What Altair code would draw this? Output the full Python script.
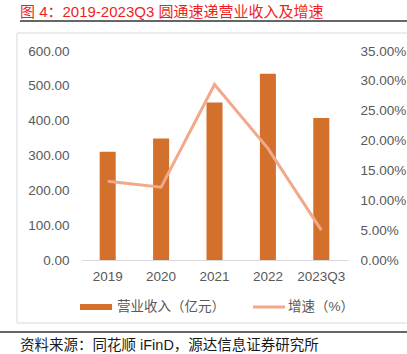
import altair as alt
import pandas as pd

years = ["2019", "2020", "2021", "2022", "2023Q3"]
revenue = [311.0, 348.5, 452.0, 535.0, 407.5]
growth = [0.132, 0.122, 0.294, 0.187, 0.050]

df = pd.DataFrame({"year": years, "revenue": revenue, "growth": growth})
dummy = pd.DataFrame({"a": [0]})

BAR = "#D2702C"
LINE = "#F2A98A"
GRAY = "#595959"
NUM_FONT = "Liberation Sans"
CJK = "Liberation Sans, Noto Sans CJK SC, sans-serif"

# plot area origin is at (81, 51) in page pixels
OX, OY = 81, 51

xenc = alt.X("year:N", sort=years, title=None,
             scale=alt.Scale(paddingInner=0.7, paddingOuter=0.35),
             axis=alt.Axis(labelAngle=0, labelFont=NUM_FONT, labelFontSize=13.5,
                           labelColor=GRAY, labelPadding=9, ticks=False,
                           domainColor="#D9D9D9", domainWidth=1))

bars = alt.Chart(df).mark_bar(color=BAR).encode(
    x=xenc,
    y=alt.Y("revenue:Q", title=None,
            scale=alt.Scale(domain=[0, 600], nice=False),
            axis=alt.Axis(values=[0, 100, 200, 300, 400, 500, 600], format=".2f",
                          labelFont=NUM_FONT, labelFontSize=13.5, labelColor=GRAY,
                          labelPadding=12, ticks=False, domain=False, grid=False)),
)

line = alt.Chart(df).mark_line(color=LINE, strokeWidth=3).encode(
    x=alt.X("year:N", sort=years),
    y=alt.Y("growth:Q", title=None,
            scale=alt.Scale(domain=[0, 0.35], nice=False),
            axis=alt.Axis(orient="right", values=[0, 0.05, 0.1, 0.15, 0.2, 0.25, 0.3, 0.35],
                          format=".2%", labelFont=NUM_FONT, labelFontSize=13.5,
                          labelColor=GRAY, labelPadding=12, ticks=False, domain=False,
                          grid=False)),
)

base = alt.Chart(dummy)

border = base.mark_rect(fill=None, stroke="#D9D9D9", strokeWidth=1).encode(
    x=alt.value(17 - OX), x2=alt.value(420 - OX),
    y=alt.value(33 - OY), y2=alt.value(323 - OY))

title = base.mark_text(align="left", baseline="middle", font=CJK, fontSize=15,
                       fontWeight="normal", color="#F01E23").encode(
    x=alt.value(20 - OX), y=alt.value(12 - OY),
    text=alt.value("图 4：2019-2023Q3 圆通速递营业收入及增速"))

underline = base.mark_rule(color="#333333", strokeWidth=1.5).encode(
    x=alt.value(20 - OX), x2=alt.value(407 - OX), y=alt.value(21 - OY))

footer_rule = base.mark_rule(color="#333333", strokeWidth=1.5).encode(
    x=alt.value(0 - OX), x2=alt.value(407 - OX), y=alt.value(332 - OY))

source = base.mark_text(align="left", baseline="middle", font=CJK, fontSize=14.5,
                        fontWeight="normal", color="#1A1A1A").encode(
    x=alt.value(20 - OX), y=alt.value(346 - OY),
    text=alt.value("资料来源：同花顺 iFinD，源达信息证券研究所"))

leg_bar = base.mark_rect(color=BAR).encode(
    x=alt.value(80 - OX), x2=alt.value(112 - OX),
    y=alt.value(304 - OY), y2=alt.value(310 - OY))
leg_bar_t = base.mark_text(align="left", baseline="middle", font=CJK, fontSize=13.5,
                           fontWeight="normal", color=GRAY).encode(
    x=alt.value(117 - OX), y=alt.value(307 - OY), text=alt.value("营业收入（亿元）"))
leg_line = base.mark_rule(color=LINE, strokeWidth=3).encode(
    x=alt.value(253 - OX), x2=alt.value(285 - OX), y=alt.value(307 - OY))
leg_line_t = base.mark_text(align="left", baseline="middle", font=CJK, fontSize=13.5,
                            fontWeight="normal", color=GRAY).encode(
    x=alt.value(288 - OX), y=alt.value(307 - OY), text=alt.value("增速（%）"))

chart = alt.layer(
    border, bars, line, title, underline, footer_rule, source,
    leg_bar, leg_bar_t, leg_line, leg_line_t
).resolve_scale(y="independent").properties(
    width=267, height=209,
    autosize=alt.AutoSizeParams(type="none"),
    padding={"left": OX, "top": OY, "right": 407 - OX - 267, "bottom": 354 - OY - 209},
    background="white",
).configure_view(stroke=None)

chart.save("out.html", embed_options={"renderer": "svg", "actions": False})
